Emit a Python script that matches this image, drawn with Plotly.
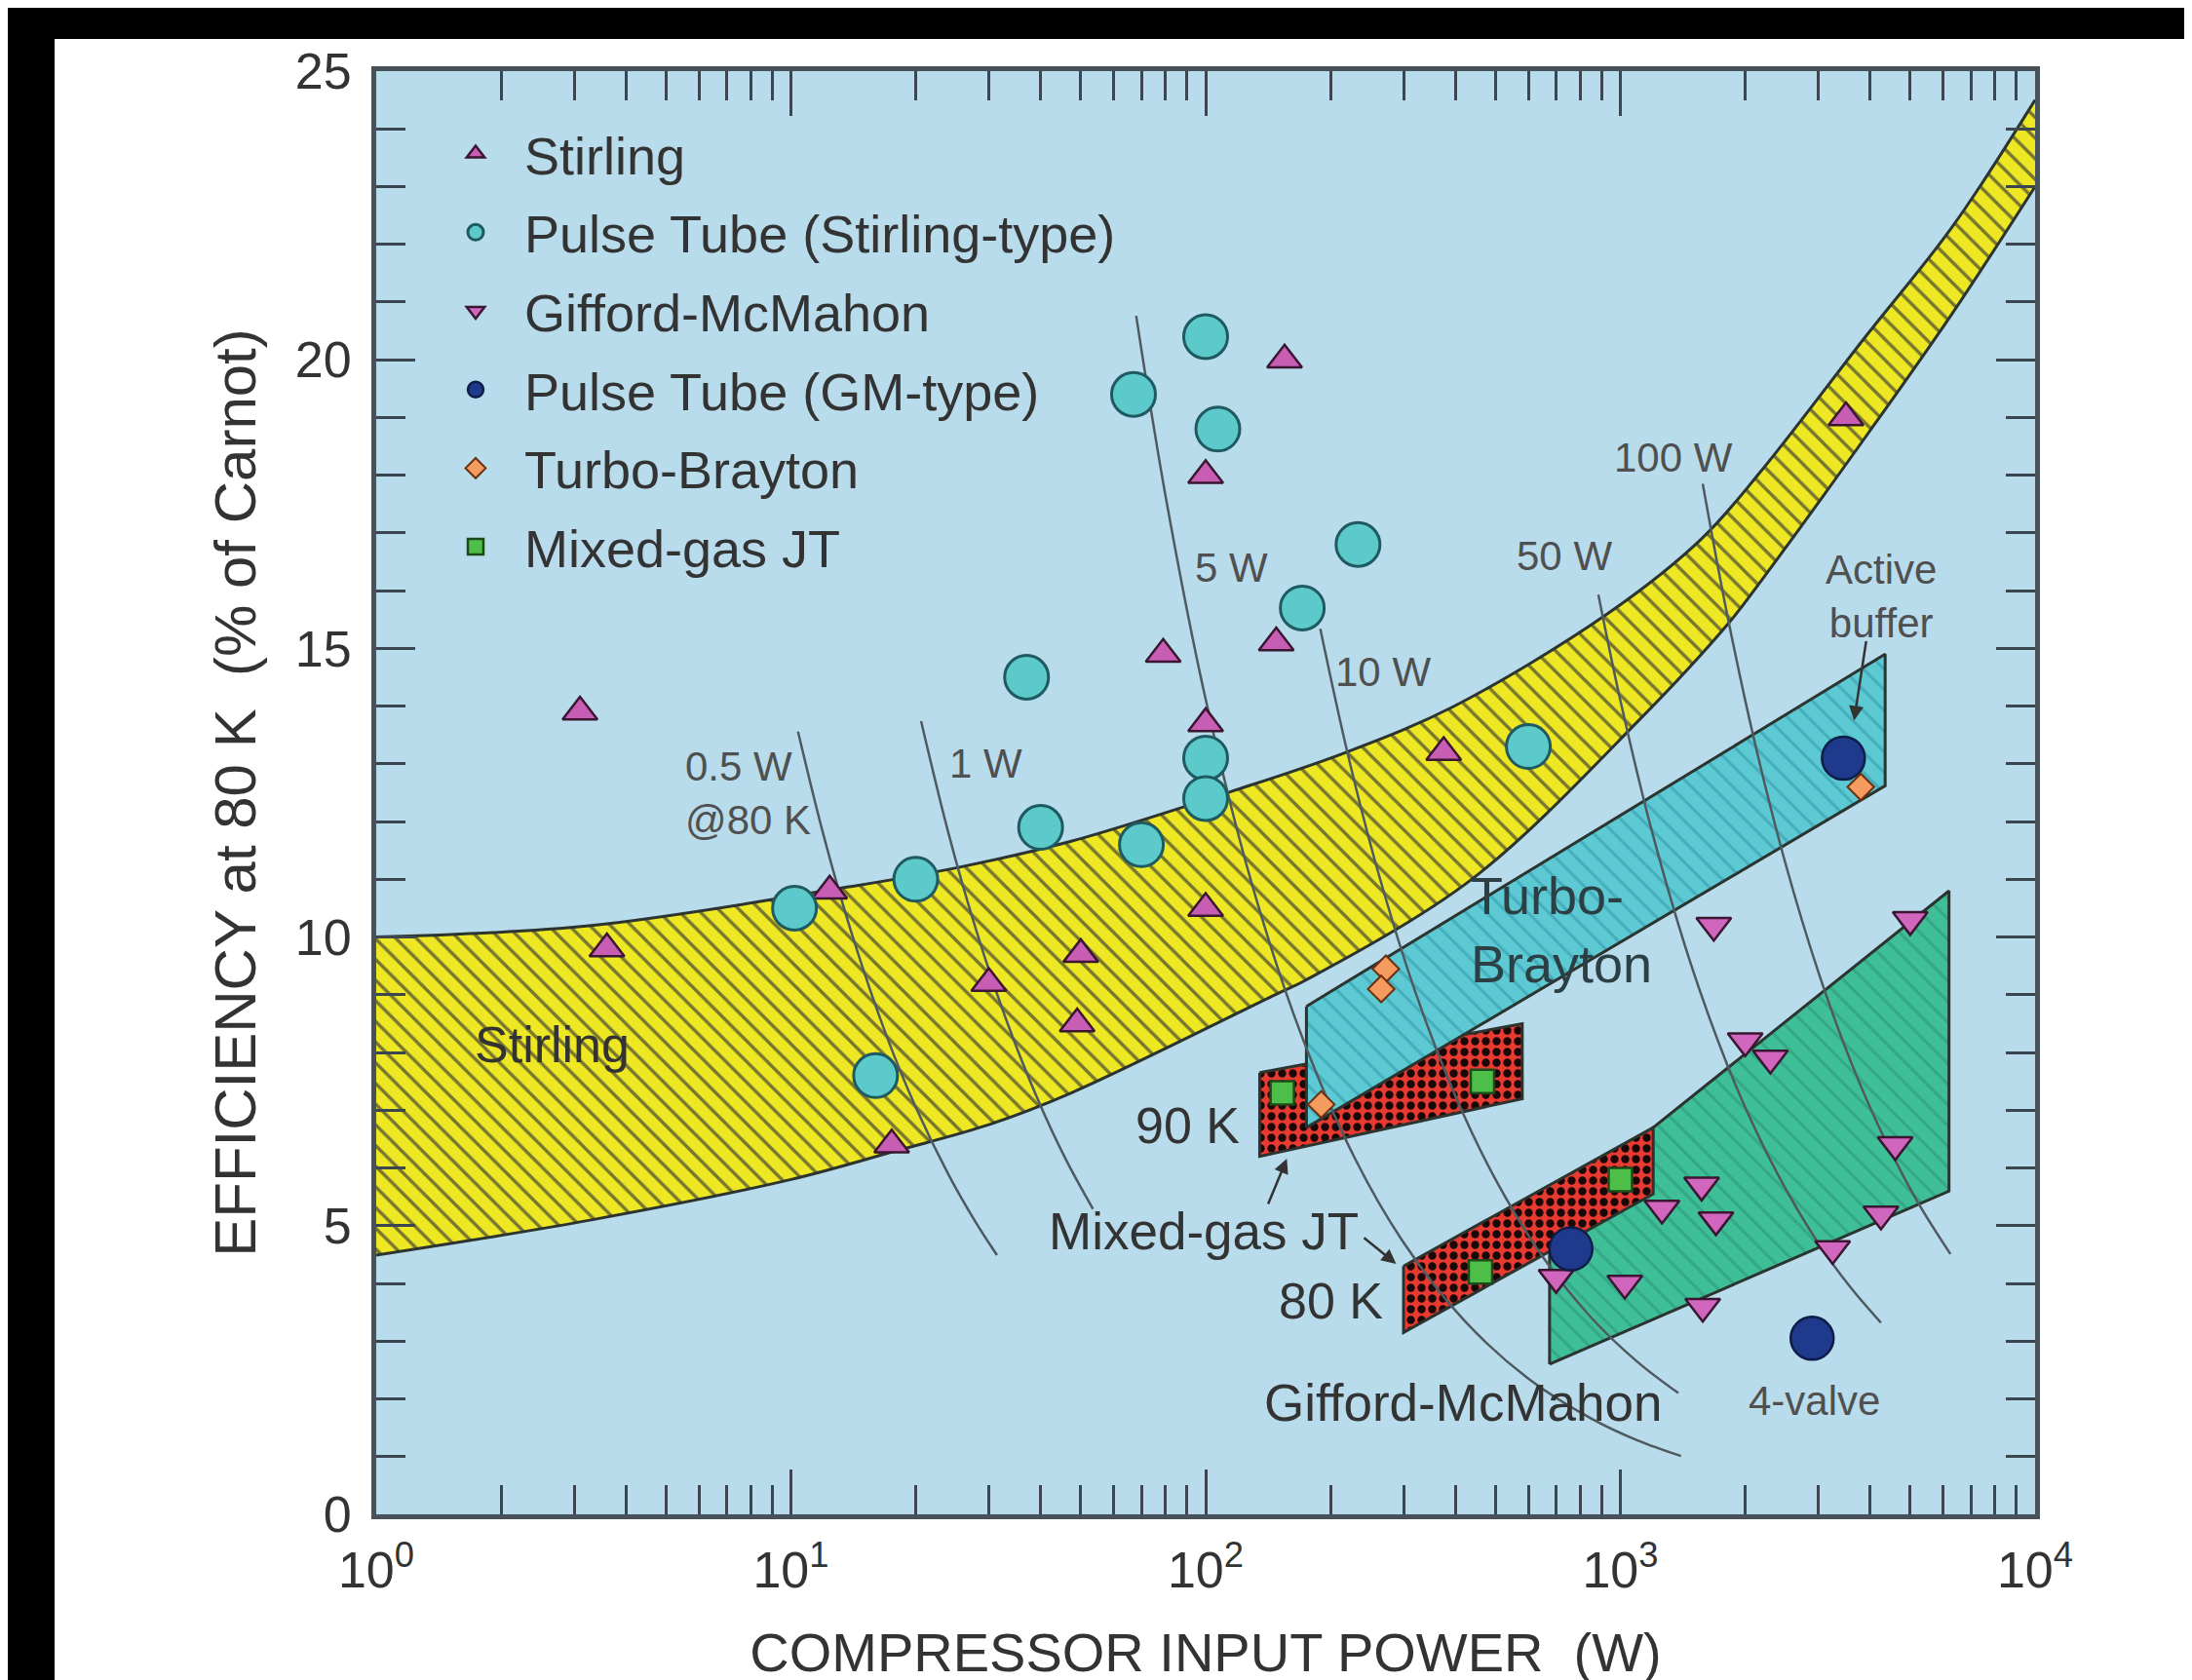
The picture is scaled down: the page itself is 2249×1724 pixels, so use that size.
import math
import plotly.graph_objects as go

# ---------------- data ----------------
stirling_P = [3.1, 3.6, 12.4, 17.5, 30, 50, 49, 79, 100, 100, 100, 155, 148, 375, 3500]
stirling_eff = [13.9, 9.8, 10.8, 6.4, 9.2, 9.7, 8.5, 14.9, 18.0, 13.7, 10.5, 20.0, 15.1, 13.2, 19.0]

ptst_P = [10.2, 20, 16, 37, 40, 70, 100, 100, 67, 100, 107, 233, 171, 600]
ptst_eff = [10.5, 11.0, 7.6, 14.5, 11.9, 11.6, 13.1, 12.4, 19.4, 20.4, 18.8, 16.8, 15.7, 13.3]

gm_P = [1680, 5000, 2000, 2300, 4600, 1260, 1570, 1700, 4250, 3250, 1025, 1580, 700]
gm_eff = [10.2, 10.3, 8.2, 7.9, 6.4, 5.3, 5.7, 5.1, 5.2, 4.6, 4.0, 3.6, 4.1]

ptgm_P = [3450, 760, 2900]
ptgm_eff = [13.1, 4.6, 3.05]

tbr_P = [272, 265, 190, 3800]
tbr_eff = [9.45, 9.1, 7.1, 12.6]

jt_P = [153, 465, 1000, 460]
jt_eff = [7.3, 7.5, 5.8, 4.2]

# Stirling band boundaries
band_up_P = [1, 3.3, 13.8, 24.7, 47.4, 115, 218, 395, 935, 1570, 2200, 3900, 6310, 10000]
band_up_eff = [10.0, 10.2, 10.87, 11.19, 11.66, 12.52, 13.2, 13.99, 15.61, 16.9, 18.1, 20.4, 22.3, 24.5]
band_lo_P = [1, 3.3, 10, 18, 30, 47.4, 147, 174, 438, 1110, 1830, 2200, 3980, 6310, 10000]
band_lo_eff = [4.49, 5.1, 5.8, 6.3, 6.75, 7.3, 9.0, 9.25, 11.0, 13.76, 15.45, 16.2, 18.75, 20.8, 23.0]

# Region outlines
tb_region_P = [175, 4350, 4350, 175]
tb_region_eff = [8.8, 14.9, 12.62, 6.7]
jt90_region_P = [135, 580, 580, 135]
jt90_region_eff = [7.65, 8.5, 7.2, 6.2]
jt80_region_P = [300, 1200, 1200, 300]
jt80_region_eff = [4.3, 6.7, 5.55, 3.15]
gm_region_P = [675, 675, 1200, 6200, 6200]
gm_region_eff = [2.6, 4.6, 6.7, 10.8, 5.6]

# Constant cooling-capacity lines
iso_05_P = [10.4, 12, 14, 17, 20, 24, 28, 31.4]
iso_05_eff = [13.56, 11.75, 10.07, 8.29, 7.05, 5.88, 5.04, 4.49]
iso_1_P = [20.6, 24, 28, 33, 39, 46, 53.5]
iso_1_eff = [13.74, 11.79, 10.11, 8.58, 7.26, 6.15, 5.29]
iso_5_P = [68, 80, 100, 130, 170, 230, 300, 420, 600, 850, 1100, 1400]
iso_5_eff = [20.76, 17.65, 14.12, 10.86, 8.31, 6.14, 4.71, 3.36, 2.35, 1.66, 1.28, 1.01]
iso_10_P = [189, 220, 260, 320, 400, 500, 650, 850, 1100, 1380]
iso_10_eff = [15.34, 13.18, 11.15, 9.06, 7.25, 5.8, 4.46, 3.41, 2.64, 2.10]
iso_50_P = [885, 1000, 1200, 1500, 1900, 2400, 3000, 3600, 4250]
iso_50_eff = [15.93, 14.1, 11.75, 9.4, 7.42, 5.88, 4.7, 3.92, 3.32]
iso_100_P = [1580, 1800, 2100, 2500, 3000, 3600, 4300, 5200, 6250]
iso_100_eff = [17.85, 15.67, 13.43, 11.28, 9.4, 7.83, 6.56, 5.42, 4.51]

x_tickvals = [1, 10, 100, 1000, 10000]
x_ticktext = ["10<sup>0</sup>", "10<sup>1</sup>", "10<sup>2</sup>", "10<sup>3</sup>", "10<sup>4</sup>"]
y_tickvals = [0, 5, 10, 15, 20, 25]

# ---------------- figure ----------------
W, H = 2249, 1724
L, R, T, B = 378, 2080, 65, 1546
FONT = "Liberation Sans, Arial, sans-serif"
TXT = "#333333"
GRAYTXT = "#505050"
OUTLINE = "#2c3430"

fig = go.Figure()

def region(P, E, bg, fg, shape, size, solid):
    fig.add_trace(go.Scatter(
        x=P, y=E, mode="lines", fill="toself", fillcolor=bg,
        fillpattern=dict(shape=shape, bgcolor=bg, fgcolor=fg, size=size,
                         solidity=solid, fillmode="replace"),
        line=dict(color=OUTLINE, width=3), hoverinfo="skip", showlegend=False))

# Stirling band (smooth boundaries, filled between them)
fig.add_trace(go.Scatter(x=band_lo_P, y=band_lo_eff, mode="lines",
                         line=dict(color=OUTLINE, width=3, shape="spline", smoothing=1.0),
                         hoverinfo="skip", showlegend=False))
fig.add_trace(go.Scatter(x=band_up_P, y=band_up_eff, mode="lines", fill="tonexty",
                         fillcolor="#EEE724",
                         fillpattern=dict(shape="\\", bgcolor="#EEE724", fgcolor="#77752E",
                                          size=15, solidity=0.22, fillmode="replace"),
                         line=dict(color=OUTLINE, width=3, shape="spline", smoothing=1.0),
                         hoverinfo="skip", showlegend=False))
# Gifford-McMahon region
region(gm_region_P + gm_region_P[:1], gm_region_eff + gm_region_eff[:1],
       "#3FBF98", "#34A785", "\\", 15, 0.2)
# Mixed-gas JT regions
region(jt80_region_P + jt80_region_P[:1], jt80_region_eff + jt80_region_eff[:1],
       "#E83A30", "#1A0808", ".", 11, 0.45)
region(jt90_region_P + jt90_region_P[:1], jt90_region_eff + jt90_region_eff[:1],
       "#E83A30", "#1A0808", ".", 11, 0.45)
# Turbo-Brayton region
region(tb_region_P + tb_region_P[:1], tb_region_eff + tb_region_eff[:1],
       "#5DC9D3", "#45AEBC", "\\", 15, 0.2)

# iso-capacity lines
for P, E in [(iso_05_P, iso_05_eff), (iso_1_P, iso_1_eff), (iso_5_P, iso_5_eff),
             (iso_10_P, iso_10_eff), (iso_50_P, iso_50_eff), (iso_100_P, iso_100_eff)]:
    fig.add_trace(go.Scatter(x=P, y=E, mode="lines", line=dict(color="#4F5A60", width=2.5, shape="spline"),
                             hoverinfo="skip", showlegend=False))

def pts(P, E, name, symbol, size, color, lcolor, lw=2.5):
    fig.add_trace(go.Scatter(
        x=P, y=E, mode="markers", name=name, legendgroup=name,
        marker=dict(symbol=symbol, size=size, color=color, line=dict(color=lcolor, width=lw))))

pts(stirling_P, stirling_eff, "Stirling", "triangle-up", 31, "#C85DB4", "#3A1630")
pts(ptst_P, ptst_eff, "Pulse Tube (Stirling-type)", "circle", 45, "#5CCACB", "#1F5A60", 3)
pts(gm_P, gm_eff, "Gifford-McMahon", "triangle-down", 31, "#D066BE", "#3A1630")
pts(ptgm_P, ptgm_eff, "Pulse Tube (GM-type)", "circle", 44, "#1F3A8C", "#0E1C48", 2.5)
pts(tbr_P, tbr_eff, "Turbo-Brayton", "diamond", 21, "#F59B60", "#6A3010", 2)
pts(jt_P, jt_eff, "Mixed-gas JT", "square", 24, "#4DBE47", "#1C4A1A", 2.5)

lg = math.log10
ann = []
def label(text, x, y, size, color=TXT, xanchor="center", align="center"):
    ann.append(dict(text=text, x=lg(x), y=y, xref="x", yref="y", showarrow=False,
                    xanchor=xanchor, yanchor="middle", align=align,
                    font=dict(family=FONT, size=size, color=color)))

def arrow(x0, y0, x1, y1):
    ann.append(dict(text="", x=lg(x1), y=y1, ax=lg(x0), ay=y0, xref="x", yref="y",
                    axref="x", ayref="y", showarrow=True, arrowhead=2, arrowsize=1.2,
                    arrowwidth=2.5, arrowcolor="#333333"))

label("0.5 W<br>@80 K", 5.5, 12.5, 42, GRAYTXT, "left", "left")
label("1 W", 23.8, 13.0, 42, GRAYTXT, "left")
label("5 W", 93, 16.4, 42, GRAYTXT, "left")
label("10 W", 203, 14.6, 42, GRAYTXT, "left")
label("50 W", 556, 16.6, 42, GRAYTXT, "left")
label("100 W", 957, 18.3, 42, GRAYTXT, "left")
label("Active<br>buffer", 4250, 15.9, 42, GRAYTXT)
label("Stirling", 2.65, 8.13, 52)
label("Turbo-<br>Brayton", 430, 10.13, 54, "#2C3F44", "left", "left")
label("90 K", 122, 6.73, 52, TXT, "right")
label("Mixed-gas JT", 99, 4.91, 53)
label("80 K", 270, 3.7, 52, TXT, "right")
label("Gifford-McMahon", 417, 1.93, 53)
label("4-valve", 2930, 1.96, 42, GRAYTXT)

arrow(3920, 15.15, 3660, 13.75)
arrow(141, 5.35, 157, 6.16)
arrow(239, 4.81, 288, 4.34)

fig.update_layout(annotations=ann)

# black frame strips of the reference picture (paper coordinates)
def px2paper_x(px):
    return (px - L) / (R - L)

def px2paper_y(py):
    return (B - py) / (B - T)

fig.add_shape(type="rect", xref="paper", yref="paper", layer="above",
              x0=px2paper_x(-20), x1=px2paper_x(W + 20), y0=px2paper_y(32), y1=px2paper_y(-40),
              fillcolor="black", line=dict(width=0))
fig.add_shape(type="rect", xref="paper", yref="paper", layer="above",
              x0=px2paper_x(-20), x1=px2paper_x(48), y0=px2paper_y(H + 20), y1=px2paper_y(-40),
              fillcolor="black", line=dict(width=0))

axis_common = dict(
    showline=True, linewidth=5, linecolor="#46515A", mirror="ticks",
    ticks="inside", tickwidth=3, tickcolor="#3C4650",
    showgrid=False, zeroline=False,
    tickfont=dict(family=FONT, size=52, color=TXT),
)

minor_x = [m * 10 ** k for k in range(4) for m in range(2, 10)]

fig.update_xaxes(
    type="log", range=[0, 4], tickmode="array", tickvals=x_tickvals, ticktext=x_ticktext,
    ticklen=46, ticklabelstandoff=8,
    minor=dict(ticks="inside", ticklen=30, tickwidth=3, tickcolor="#3C4650",
               tickmode="array", tickvals=minor_x, showgrid=False),
    title=dict(text="COMPRESSOR INPUT POWER\u00a0 (W)", standoff=38,
               font=dict(family=FONT, size=56, color=TXT)),
    **axis_common)
fig.update_yaxes(
    range=[0, 25], tickmode="array", tickvals=y_tickvals,
    ticklen=40, ticklabelstandoff=10,
    minor=dict(ticks="inside", ticklen=30, tickwidth=3, tickcolor="#3C4650", dtick=1,
               showgrid=False),
    title=dict(text="EFFICIENCY at 80 K\u00a0 (% of Carnot)", standoff=22,
               font=dict(family=FONT, size=60, color=TXT)),
    **axis_common)

fig.update_layout(
    width=W, height=H,
    margin=dict(l=L, r=W - R, t=T, b=H - B, pad=0),
    paper_bgcolor="white", plot_bgcolor="#B8DCEB",
    font=dict(family=FONT, color=TXT),
    showlegend=True,
    legend=dict(x=px2paper_x(430), y=px2paper_y(108), xanchor="left", yanchor="top",
                bgcolor="rgba(0,0,0,0)", traceorder="grouped", tracegroupgap=7.5,
                itemwidth=90,
                font=dict(family=FONT, size=54, color=TXT)),
)

fig.write_html("out.html")
